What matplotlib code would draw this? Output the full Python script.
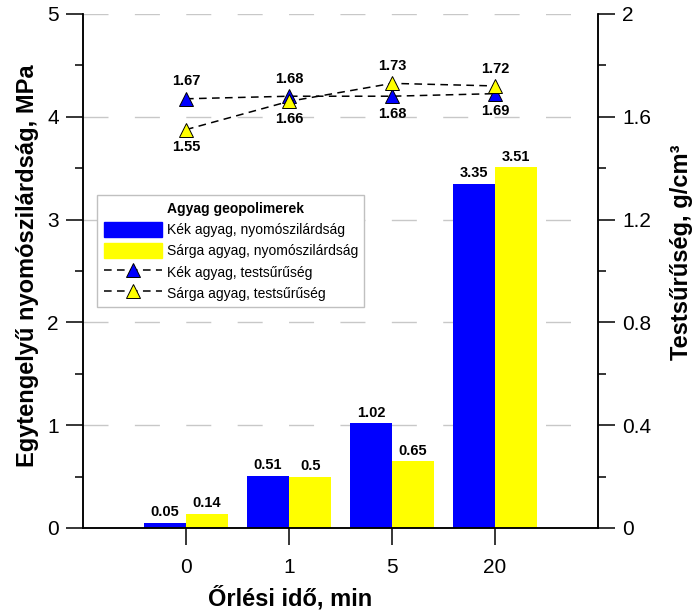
import numpy as np
import matplotlib.pyplot as plt
from matplotlib.patches import Patch
from matplotlib.lines import Line2D
from matplotlib.ticker import MultipleLocator, FuncFormatter

plt.rcParams['font.family'] = ['Liberation Sans', 'DejaVu Sans']

# grinding time categories
times = ['0', '1', '5', '20']

# compressive strength, MPa
strength_blue = [0.05, 0.51, 1.02, 3.35]
strength_yellow = [0.14, 0.5, 0.65, 3.51]

# bulk density, g/cm3
density_blue = [1.67, 1.68, 1.68, 1.69]
density_yellow = [1.55, 1.66, 1.73, 1.72]

# which side of the marker the density label goes (+1 above, -1 below)
side_blue = [1, 1, -1, -1]
side_yellow = [-1, -1, 1, 1]

BLUE = '#0000ff'
YELLOW = '#ffff00'

fig = plt.figure(figsize=(6.93, 6.13), dpi=100)
ax = fig.add_axes([0.1198, 0.1387, 0.7432, 0.8385])
ax2 = ax.twinx()

x = np.arange(len(times))
w = 0.41

b1 = ax.bar(x - w / 2, strength_blue, w, color=BLUE, zorder=2)
b2 = ax.bar(x + w / 2, strength_yellow, w, color=YELLOW, zorder=2)
for bars, vals in ((b1, strength_blue), (b2, strength_yellow)):
    for r, v in zip(bars, vals):
        ax.annotate(f'{v:g}', (r.get_x() + r.get_width() / 2, v),
                    xytext=(0, 2.5), textcoords='offset points',
                    ha='center', va='bottom', fontsize=10.5, fontweight='bold')

ax.set_xlim(-1, 4)
ax.set_ylim(0, 5)
ax.set_xticks(x)
ax.set_xticklabels(times)
ax.yaxis.set_major_locator(MultipleLocator(1))
ax.yaxis.set_minor_locator(MultipleLocator(0.5))
ax.yaxis.grid(True, color='#c8c8c8', linestyle=(0, (18, 19)), linewidth=1, zorder=0)
ax.set_axisbelow(True)

for a in (ax, ax2):
    a.spines['top'].set_visible(False)
    a.tick_params(axis='both', which='major', direction='out', length=12.5, width=1.1,
                  labelsize=15, pad=5)
    a.tick_params(axis='y', which='minor', direction='out', length=5.5, width=1.1)
    for s in a.spines.values():
        s.set_linewidth(1.1)
ax.tick_params(axis='x', pad=9)

ax2.set_ylim(0, 2)
ax2.yaxis.set_major_locator(MultipleLocator(0.4))
ax2.yaxis.set_minor_locator(MultipleLocator(0.2))
ax2.yaxis.set_major_formatter(FuncFormatter(lambda v, pos: f'{v:.1f}'.rstrip('0').rstrip('.')))

dash = (0, (5, 3.5))
ax2.plot(x, density_blue, linestyle=dash, color='black', lw=1.1, marker='^',
         markersize=10, markerfacecolor=BLUE, markeredgecolor='black',
         markeredgewidth=0.7, zorder=3)
ax2.plot(x, density_yellow, linestyle=dash, color='black', lw=1.1, marker='^',
         markersize=10, markerfacecolor=YELLOW, markeredgecolor='black',
         markeredgewidth=0.7, zorder=4)
for vals, sides in ((density_blue, side_blue), (density_yellow, side_yellow)):
    for xi, v, s in zip(x, vals, sides):
        ax2.annotate(f'{v:.2f}', (xi, v), xytext=(0, 12.5 * s),
                     textcoords='offset points', ha='center',
                     va='center', fontsize=10.5, fontweight='bold')

ax.set_xlabel('Őrlési idő, min', fontsize=17, fontweight='bold', labelpad=6.5)
ax.set_ylabel('Egytengelyű nyomószilárdság, MPa', fontsize=17, fontweight='bold',
              labelpad=6)
ax2.set_ylabel('Testsűrűség, g/cm³', fontsize=17, fontweight='bold', labelpad=13)
ax.xaxis.label.set_x(0.402)
ax.yaxis.label.set_y(0.51)
ax2.yaxis.label.set_y(0.537)

handles = [
    Patch(visible=False),
    Patch(color=BLUE),
    Patch(color=YELLOW),
    Line2D([], [], linestyle=dash, color='black', lw=1.1, marker='^', markersize=10,
           markerfacecolor=BLUE, markeredgecolor='black', markeredgewidth=0.7),
    Line2D([], [], linestyle=dash, color='black', lw=1.1, marker='^', markersize=10,
           markerfacecolor=YELLOW, markeredgecolor='black', markeredgewidth=0.7),
]
labels = ['Agyag geopolimerek',
          'Kék agyag, nyomószilárdság',
          'Sárga agyag, nyomószilárdság',
          'Kék agyag, testsűrűség',
          'Sárga agyag, testsűrűség']
leg = ax2.legend(handles, labels, loc='upper left', bbox_to_anchor=(0.028, 0.648),
                 fontsize=10, handlelength=4.2, handleheight=1.3, labelspacing=0.42,
                 handletextpad=0.35, borderpad=0.45, borderaxespad=0,
                 fancybox=False, framealpha=1, edgecolor='#c0c0c0')
leg.get_frame().set_linewidth(1.0)
leg.get_texts()[0].set_fontweight('bold')

fig.savefig('out.png', dpi=100)
